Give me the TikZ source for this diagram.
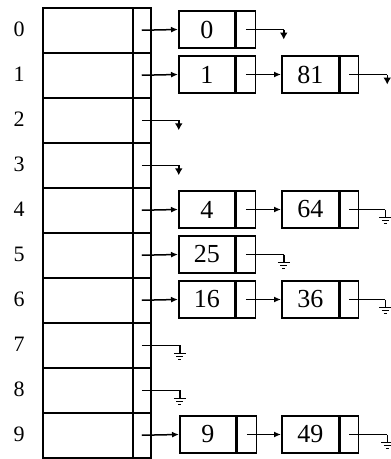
\documentclass[tikz,border=0pt]{standalone}
\usepackage{fontspec}
\setmainfont{Liberation Serif}
\usetikzlibrary{arrows.meta}
\begin{document}
\begin{tikzpicture}[x=1pt,y=-1pt,line width=1.5pt,
  keycell/.style={draw,minimum width=90pt,minimum height=45pt,inner sep=0pt,anchor=north west},
  ptrcell/.style={draw,minimum width=18pt,minimum height=45pt,inner sep=0pt,anchor=north west},
  idx/.style={font=\fontsize{22}{22}\selectfont},
  datab/.style={draw,minimum width=56pt,minimum height=37pt,inner sep=0pt,font=\fontsize{26}{26}\selectfont,anchor=west},
  ptrb/.style={draw,minimum width=19pt,minimum height=37pt,inner sep=0pt,anchor=west},
  link/.style={-{Latex[length=7pt,width=6pt]}},
  pics/gnd/.style={code={
    \draw (0,0) -- (0,8);
    \draw[line width=1.2pt] (-6,8) -- (6,8);
    \draw[line width=1.2pt] (-3.5,11) -- (3.5,11);
    \draw[line width=1.2pt] (-1.5,14) -- (1.5,14);}},
  pics/nularrow/.style={code={
    \draw[-{Latex[length=7pt,width=8pt]}] (0,0) -- (0,10);}}
]
\useasboundingbox (0,0) rectangle (391,459);
% hash table
\foreach \i in {0,...,9}{
  \node[keycell] (k\i) at (42,{7+45*\i}) {};
  \node[ptrcell] (t\i) at (132,{7+45*\i}) {};
  \node[idx] (l\i) at (19,{29.5+45*\i}) {\i};
}
% row 0
\node[datab] (a0) at (178,29.5) {0};
\node[ptrb] (a0p) at (a0.east) {};
\draw[link] (t0.center) -- (a0.west);
\draw (a0p.center) -- ++(38,0) coordinate (z0);
\pic at (z0) {nularrow};
% row 1
\node[datab] (a1) at (178,74.5) {1};
\node[ptrb] (a1p) at (a1.east) {};
\node[datab,minimum width=57pt] (b1) at (281,74.5) {81};
\node[ptrb,minimum width=18pt] (b1p) at (b1.east) {};
\draw[link] (t1.center) -- (a1.west);
\draw[link] (a1p.center) -- (b1.west);
\draw (b1p.center) -- ++(38,0) coordinate (z1);
\pic at (z1) {nularrow};
% row 2, 3
\draw (t2.center) -- ++(37,0) coordinate (z2);
\pic at (z2) {nularrow};
\draw (t3.center) -- ++(37,0) coordinate (z3);
\pic at (z3) {nularrow};
% row 4
\node[datab] (a4) at (178,209.5) {4};
\node[ptrb] (a4p) at (a4.east) {};
\node[datab,minimum width=57pt] (b4) at (281,209.5) {64};
\node[ptrb,minimum width=18pt] (b4p) at (b4.east) {};
\draw[link] (t4.center) -- (a4.west);
\draw[link] (a4p.center) -- (b4.west);
\draw (b4p.center) -- ++(36,0) coordinate (z4);
\pic at (z4) {gnd};
% row 5
\node[datab] (a5) at (178,254.5) {25};
\node[ptrb] (a5p) at (a5.east) {};
\draw[link] (t5.center) -- (a5.west);
\draw (a5p.center) -- ++(38,0) coordinate (z5);
\pic at (z5) {gnd};
% row 6
\node[datab] (a6) at (178,299.5) {16};
\node[ptrb] (a6p) at (a6.east) {};
\node[datab,minimum width=57pt] (b6) at (281,299.5) {36};
\node[ptrb,minimum width=18pt] (b6p) at (b6.east) {};
\draw[link] (t6.center) -- (a6.west);
\draw[link] (a6p.center) -- (b6.west);
\draw (b6p.center) -- ++(36,0) coordinate (z6);
\pic at (z6) {gnd};
% row 7, 8
\draw (t7.center) -- ++(38,0) coordinate (z7);
\pic at (z7) {gnd};
\draw (t8.center) -- ++(38,0) coordinate (z8);
\pic at (z8) {gnd};
% row 9
\node[datab] (a9) at (179,434.5) {9};
\node[ptrb] (a9p) at (a9.east) {};
\node[datab,minimum width=57pt] (b9) at (281,434.5) {49};
\node[ptrb,minimum width=18pt] (b9p) at (b9.east) {};
\draw[link] (t9.center) -- (a9.west);
\draw[link] (a9p.center) -- (b9.west);
\draw (b9p.center) -- ++(38,0) coordinate (z9);
\pic at (z9) {gnd};
\end{tikzpicture}
\end{document}
